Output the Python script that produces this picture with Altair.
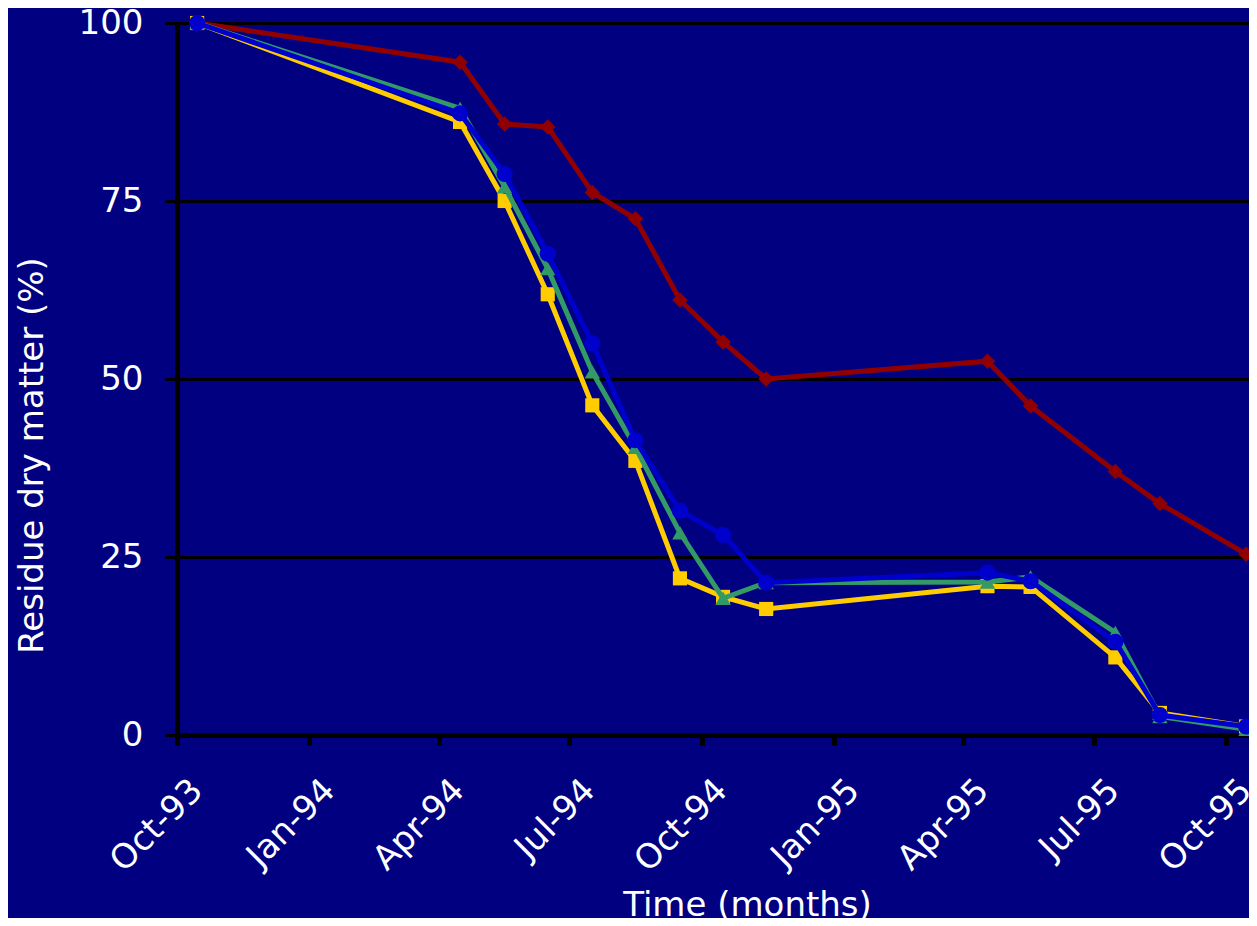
import altair as alt
import pandas as pd

# ---- data ----
dates = ["1993-10-15", "1994-04-16", "1994-05-17", "1994-06-16", "1994-07-17",
         "1994-08-16", "1994-09-16", "1994-10-16", "1994-11-15", "1995-04-18",
         "1995-05-18", "1995-07-16", "1995-08-16", "1995-10-15"]

series_names = ["Series 1", "Series 2", "Series 3", "Series 4"]
red_vals = [100, 94.5, 85.8, 85.4, 76.2, 72.5, 61.1, 55.2, 50.0, 52.5, 46.2, 37.0, 32.5, 25.4]
yellow_vals = [100, 86.1, 75.0, 61.9, 46.3, 38.5, 22.0, 19.4, 17.7, 20.9, 20.8, 10.9, 3.1, 1.2]
green_vals = [100, 88.0, 77.0, 65.5, 51.0, 40.4, 28.4, 19.2, 21.4, 21.5, 22.2, 14.4, 2.6, 0.8]
blue_vals = [100, 87.3, 78.8, 67.6, 55.0, 41.4, 31.5, 28.1, 21.4, 22.8, 21.6, 13.1, 2.8, 1.2]

series_colors = ["#900000", "#FFCC00", "#339966", "#0000CC"]
series_shapes = ["diamond", "square", "triangle-up", "circle"]
series_sizes = [240, 200, 240, 260]

y_ticks = [0, 25, 50, 75, 100]
x_tick_dates = [(1993, 10), (1994, 1), (1994, 4), (1994, 7), (1994, 10),
                (1995, 1), (1995, 4), (1995, 7), (1995, 10)]

all_vals = [red_vals, yellow_vals, green_vals, blue_vals]
rows = []
for name, vals in zip(series_names, all_vals):
    for d, v in zip(dates, vals):
        rows.append({"date": d, "value": v, "series": name})
df = pd.DataFrame(rows)

FONT = "DejaVu Sans"

x_enc = alt.X(
    "date:T",
    scale=alt.Scale(
        type="utc",
        domain=[alt.DateTime(year=1993, month=10, date=1, utc=True),
                alt.DateTime(year=1995, month=10, date=17, utc=True)],
    ),
    axis=alt.Axis(
        title="Time (months)",
        values=[alt.DateTime(year=y, month=m, date=1, utc=True) for y, m in x_tick_dates],
        labelExpr="utcFormat(datum.value, '%b-%y')",
        labelAngle=315,
        labelAlign="right",
        labelBaseline="middle",
        labelOffset=20,
        labelPadding=40,
        labelOverlap=False,
        labelFlush=False,
        labelBound=False,
        labelFont=FONT,
        labelFontSize=34,
        labelColor="white",
        tickSize=10,
        tickWidth=5,
        tickColor="black",
        domainColor="black",
        domainWidth=5,
        grid=False,
        titleFont=FONT,
        titleFontSize=34,
        titleFontWeight="normal",
        titleColor="white",
        titleX=570,
        titleY=180,
        titleAlign="center",
        titleBaseline="alphabetic",
    ),
)

y_enc = alt.Y(
    "value:Q",
    scale=alt.Scale(domain=[0, 100], nice=False, zero=True),
    axis=alt.Axis(
        title="Residue dry matter (%)",
        values=y_ticks,
        labelFont=FONT,
        labelFontSize=34,
        labelColor="white",
        labelPadding=22,
        tickSize=12,
        tickWidth=3,
        tickColor="black",
        domainColor="black",
        domainWidth=5,
        grid=True,
        gridColor="black",
        gridWidth=3,
        titleFont=FONT,
        titleFontSize=34,
        titleFontWeight="normal",
        titleColor="white",
        titleAngle=270,
        titleX=-145,
        titleY=432,
        titleAlign="center",
        titleBaseline="middle",
    ),
)

layers = []
for name, col, shp, sz in zip(series_names, series_colors, series_shapes, series_sizes):
    base = alt.Chart(df).transform_filter(alt.datum.series == name)
    line = base.mark_line(color=col, strokeWidth=5).encode(x=x_enc, y=y_enc)
    pts = base.mark_point(filled=True, opacity=1, color=col, shape=shp, size=sz).encode(x=x_enc, y=y_enc)
    layers.extend([line, pts])

chart = alt.layer(*layers).properties(
    width=1072,
    height=712,
    background="#000080",
    padding={"left": 169, "top": 15, "right": 0, "bottom": 183},
    autosize=alt.AutoSizeParams(type="none"),
).configure_view(strokeWidth=0)

chart.save("out.html", embed_options={"renderer": "svg", "actions": False})
